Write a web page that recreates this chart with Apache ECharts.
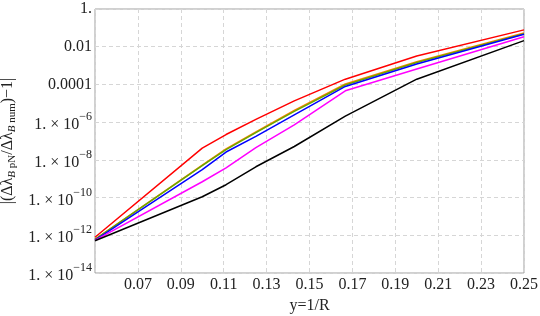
<!DOCTYPE html>
<html><head><meta charset="utf-8">
<script src="https://cdn.jsdelivr.net/npm/echarts@6/dist/echarts.min.js"></script>
<style>html,body{margin:0;padding:0;background:#fff}#c{width:540px;height:316px}</style>
</head><body><div id="c"></div>
<script>
var xValues = [0.05, 0.1, 0.1111, 0.125, 0.1429, 0.1667, 0.2, 0.25];
var redVals     = [7.9e-13, 4.2e-8, 2.2e-7, 1.4e-6, 1.35e-5, 1.9e-4, 3.2e-3, 7.8e-2];
var orangeVals  = [6.0e-13, 5.2e-9, 3.8e-8, 3.0e-7, 4.2e-6, 1.05e-4, 1.6e-3, 5.4e-2];
var greenVals   = [6.0e-13, 5.0e-9, 3.5e-8, 2.8e-7, 3.7e-6, 9.3e-5, 1.45e-3, 4.9e-2];
var blueVals    = [5.6e-13, 3.0e-9, 2.6e-8, 1.75e-7, 2.45e-6, 7.8e-5, 1.2e-3, 4.6e-2];
var magentaVals = [5.4e-13, 6.9e-10, 3.8e-9, 4.4e-8, 7.2e-7, 4.6e-5, 6.6e-4, 3.4e-2];
var blackVals   = [5.1e-13, 1.1e-10, 4.8e-10, 4.3e-9, 5.1e-8, 2.1e-6, 1.9e-4, 2.1e-2];
var yTickLabels = {'0':'1.', '-2':'0.01', '-4':'0.0001', '-6':'1. × 10|−6', '-8':'1. × 10|−8', '-10':'1. × 10|−10', '-12':'1. × 10|−12', '-14':'1. × 10|−14'};
var xTickLabels = ['0.07','0.09','0.11','0.13','0.15','0.17','0.19','0.21','0.23','0.25'];

function pairs(vals){ return xValues.map(function(x,i){ return [x, vals[i]]; }); }
var seriesDefs = [
  {name:'red', color:'#ff0000', vals:redVals},
  {name:'orange', color:'#ff8000', vals:orangeVals},
  {name:'green', color:'#66aa00', vals:greenVals},
  {name:'blue', color:'#0000ff', vals:blueVals},
  {name:'magenta', color:'#ff00ff', vals:magentaVals},
  {name:'black', color:'#000000', vals:blackVals}
];
var font = 'Liberation Serif';
var chart = echarts.init(document.getElementById('c'), null, {renderer:'canvas'});
chart.setOption({
  animation:false,
  backgroundColor:'#fff',
  grid:{left:95, right:16, top:9, bottom:43, show:true, borderColor:'#a0a0a0', borderWidth:1,
        containLabel:false, outerBoundsMode:'none'},
  xAxis:{
    type:'value', min:0.05, max:0.25, interval:0.02,
    name:'y=1/R', nameLocation:'middle', nameGap:18,
    nameTextStyle:{fontFamily:font, fontSize:16, color:'#222'},
    axisLine:{show:false}, axisTick:{show:false},
    axisLabel:{fontFamily:font, fontSize:16, color:'#222', margin:4,
      formatter:function(v){ var s=v.toFixed(2); return xTickLabels.indexOf(s)>=0 ? s : ''; }},
    splitLine:{show:true, lineStyle:{color:'#d6d6d6', type:[4,3], width:1}}
  },
  yAxis:{
    type:'log', logBase:10, min:1e-14, max:1, interval:2,
    name:'|(Δλ{i|B}{sub| pN}/Δλ{i|B}{sub| num})−1|',
    nameLocation:'middle', nameGap:74, nameRotate:90,
    nameTextStyle:{fontFamily:font, fontSize:16, color:'#222',
      rich:{i:{fontFamily:font, fontStyle:'italic', fontSize:11, verticalAlign:'bottom', color:'#222', lineHeight:20},
            sub:{fontFamily:font, fontSize:11, verticalAlign:'bottom', color:'#222', lineHeight:20}}},
    axisLine:{show:false}, axisTick:{show:false},
    axisLabel:{fontFamily:font, fontSize:16, color:'#222', margin:3,
      formatter:function(v){
        var e = Math.round(Math.log(v)/Math.LN10);
        var s = yTickLabels[String(e)];
        if (s === undefined) return '';
        var p = s.split('|');
        if (p.length === 1) return p[0];
        return '{b|' + p[0] + '}{sup|' + p[1] + '}';
      },
      rich:{b:{fontFamily:font, fontSize:16, color:'#222', lineHeight:22, verticalAlign:'bottom'},
            sup:{fontFamily:font, fontSize:12, color:'#222', verticalAlign:'top', lineHeight:22}}},
    splitLine:{show:true, lineStyle:{color:'#d6d6d6', type:[4,3], width:1}}
  },
  series: seriesDefs.map(function(s){
    return {name:s.name, type:'line', data:pairs(s.vals), showSymbol:false, symbol:'none',
      lineStyle:{color:s.color, width:1.5}, itemStyle:{color:s.color}};
  })
});
</script></body></html>
